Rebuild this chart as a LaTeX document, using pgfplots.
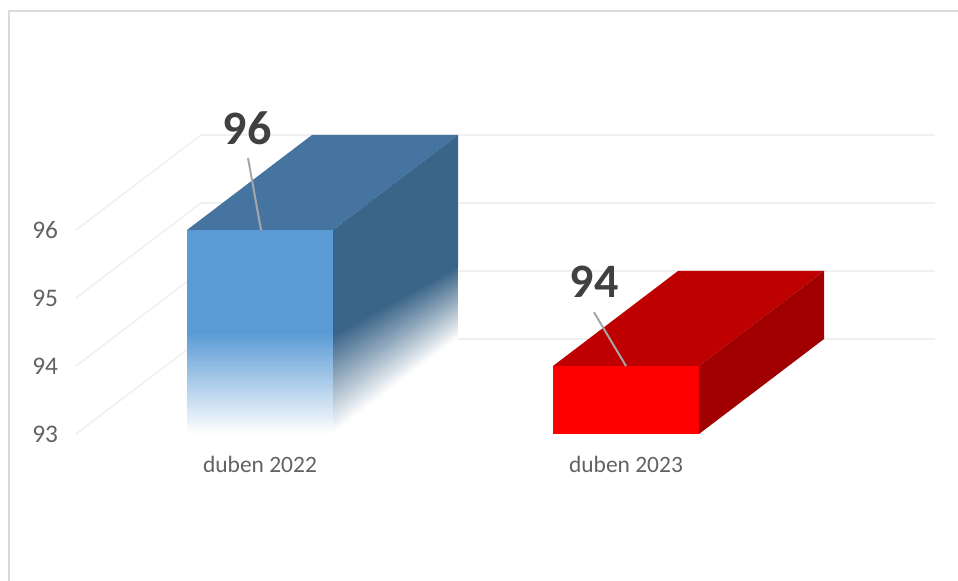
\documentclass[border=0pt]{standalone}
\usepackage{fontspec}
\setmainfont{Carlito}
\usepackage{pgfplots}
\pgfplotsset{compat=1.18}
\usepgfplotslibrary{patchplots}
\definecolor{gridc}{HTML}{F0F0F0}
\definecolor{borderc}{HTML}{DADADA}
\definecolor{bfront}{HTML}{5B9BD5}
\definecolor{btop}{HTML}{44749F}
\definecolor{bside}{HTML}{3A6488}
\definecolor{rfront}{HTML}{FF0000}
\definecolor{rtop}{HTML}{BF0000}
\definecolor{rside}{HTML}{A00000}
\definecolor{leader}{HTML}{A6A6A6}
\definecolor{txt}{HTML}{626262}
\definecolor{lab}{HTML}{404040}
\pgfplotsset{
  colormap={bfade}{rgb255=(91,155,213) rgb255=(255,255,255)},
  colormap={sfade}{rgb255=(58,100,136) rgb255=(255,255,255)},
}
\begin{document}
\begin{tikzpicture}[x=1pt,y=1pt]
\useasboundingbox (0,0) rectangle (718.5,435.75);
\begin{axis}[
  at={(57pt,110.25pt)},anchor=south west,
  scale only axis,width=644.25pt,height=224.25pt,
  xmin=76,xmax=935,ymin=93,ymax=97.397,
  clip=false,
  axis line style={draw=none},
  tick style={draw=none},
  major tick length=0pt,
  point meta min=0,point meta max=1,
  /pgf/number format/assume math mode=true,
  xtick={260,626},xticklabels={duben 2022,duben 2023},
  ytick={93,94,95,96},
  tick label style={text=txt},
  x tick label style={font=\fontsize{17.6}{20}\selectfont,anchor=center,yshift=-23.2pt},
  y tick label style={font=\fontsize{19}{22}\selectfont,anchor=east,xshift=-10pt},
]
% frame of the chart area
\addplot[borderc,line width=1.9pt,forget plot] coordinates {(9,90.838) (9,99.22) (958,99.22)};
% grid: side wall and back wall
\addplot[gridc,line width=1.2pt] coordinates {(76,93) (201,94.397) (935,94.397)};
\addplot[gridc,line width=1.2pt] coordinates {(76,94) (201,95.397) (935,95.397)};
\addplot[gridc,line width=1.2pt] coordinates {(76,95) (201,96.397) (935,96.397)};
\addplot[gridc,line width=1.2pt] coordinates {(76,96) (201,97.397) (935,97.397)};
% bar duben 2022 = 96
\addplot[draw=none,fill=btop] coordinates {(187,96) (312,97.397) (458,97.397) (333,96)} -- cycle;
\addplot[draw=none,fill=bside] coordinates {(333,96) (458,97.397) (458,95.456) (333,94.456)} -- cycle;
\addplot[patch,patch type=bilinear,shader=interp,colormap name=sfade,point meta=explicit]
  coordinates {(333,94.456) [0] (457.4,95.456) [0] (457.4,94.397) [1] (333,93) [1]};
\addplot[draw=none,fill=bfront] coordinates {(187,96) (333,96) (333,94.485) (187,94.485)} -- cycle;
\addplot[patch,patch type=bilinear,shader=interp,colormap name=bfade,point meta=explicit]
  coordinates {(187,94.485) [0] (333,94.485) [0] (333,93) [1] (187,93) [1]};
% bar duben 2023 = 94
\addplot[draw=none,fill=rtop] coordinates {(553,94) (678,95.397) (824,95.397) (699,94)} -- cycle;
\addplot[draw=none,fill=rside] coordinates {(699,94) (824,95.397) (824,94.397) (699,93)} -- cycle;
\addplot[draw=none,fill=rfront] coordinates {(553,93) (553,94) (699,94) (699,93)} -- cycle;
% leader lines
\addplot[leader,line width=1.5pt] coordinates {(248,97.06) (261,96)};
\addplot[leader,line width=1.5pt] coordinates {(594,94.79) (626,94)};
% data labels
\node[font=\fontsize{36}{40}\selectfont\bfseries,text=lab] at (axis cs:247,97.5) {96};
\node[font=\fontsize{36}{40}\selectfont\bfseries,text=lab] at (axis cs:594,95.235) {94};
\end{axis}
\end{tikzpicture}
\end{document}
